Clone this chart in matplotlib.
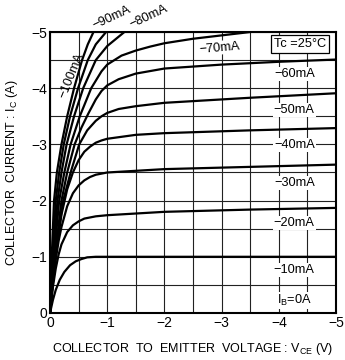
import matplotlib
matplotlib.use("Agg")
import matplotlib.pyplot as plt

plt.rcParams['font.family'] = ['Liberation Sans', 'DejaVu Sans']

# base current curves: (Vce, Ic) points, magnitudes
ib_10_v = [0, 0.05, 0.1, 0.17, 0.25, 0.35, 0.45, 0.55, 0.65, 0.8, 1.5, 3, 5]
ib_10_i = [0, 0.23, 0.41, 0.59, 0.73, 0.85, 0.92, 0.96, 0.99, 1.0, 1.0, 1.0, 1.0]

ib_20_v = [0, 0.05, 0.1, 0.15, 0.2, 0.3, 0.4, 0.5, 0.6, 0.8, 1.0, 2.0, 3.5, 5]
ib_20_i = [0, 0.46, 0.79, 1.04, 1.22, 1.44, 1.56, 1.63, 1.68, 1.72, 1.74, 1.80, 1.84, 1.87]

ib_30_v = [0, 0.05, 0.1, 0.15, 0.2, 0.3, 0.4, 0.5, 0.6, 0.7, 0.8, 1.0, 2.0, 3.5, 5]
ib_30_i = [0, 0.53, 0.95, 1.28, 1.53, 1.9, 2.13, 2.27, 2.36, 2.42, 2.46, 2.50, 2.56, 2.60, 2.64]

ib_40_v = [0, 0.05, 0.1, 0.2, 0.3, 0.4, 0.5, 0.6, 0.7, 0.8, 0.9, 1.0, 1.5, 2.0, 3.5, 5]
ib_40_i = [0, 0.6, 1.05, 1.75, 2.2, 2.5, 2.72, 2.87, 2.96, 3.03, 3.07, 3.10, 3.17, 3.20, 3.25, 3.29]

ib_50_v = [0, 0.05, 0.1, 0.23, 0.36, 0.51, 0.65, 0.8, 0.9, 1.0, 1.2, 1.5, 2.0, 3.5, 5]
ib_50_i = [0, 0.6, 1.1, 2.0, 2.5, 3.0, 3.25, 3.42, 3.5, 3.56, 3.63, 3.68, 3.74, 3.83, 3.91]

ib_60_v = [0, 0.05, 0.085, 0.2, 0.3, 0.43, 0.55, 0.67, 0.8, 0.9, 1.0, 1.2, 1.5, 2.0, 3.0, 4.0, 5]
ib_60_i = [0, 0.6, 1.0, 2.0, 2.5, 3.0, 3.3, 3.55, 3.8, 3.95, 4.05, 4.16, 4.26, 4.35, 4.42, 4.47, 4.51]

ib_70_v = [0, 0.07, 0.16, 0.25, 0.36, 0.52, 0.72, 0.9, 1.0, 1.25, 1.5, 1.75, 2.0, 2.5, 3.0, 3.5, 4.0, 5]
ib_70_i = [0, 1.0, 2.0, 2.5, 3.0, 3.5, 4.0, 4.3, 4.42, 4.58, 4.67, 4.74, 4.80, 4.88, 4.94, 5.0, 5.06, 5.18]

ib_80_v = [0, 0.06, 0.13, 0.2, 0.29, 0.42, 0.58, 0.8, 1.0, 1.3]
ib_80_i = [0, 1.0, 2.0, 2.5, 3.0, 3.5, 4.0, 4.5, 4.75, 5.0]

ib_90_v = [0, 0.045, 0.1, 0.16, 0.24, 0.35, 0.49, 0.66, 0.8, 0.98]
ib_90_i = [0, 1.0, 2.0, 2.5, 3.0, 3.5, 4.0, 4.5, 4.78, 5.0]

ib_100_v = [0, 0.03, 0.07, 0.12, 0.2, 0.3, 0.42, 0.56, 0.66, 0.76]
ib_100_i = [0, 1.0, 2.0, 2.5, 3.0, 3.5, 4.0, 4.5, 4.78, 5.0]

curves = [(ib_10_v, ib_10_i), (ib_20_v, ib_20_i), (ib_30_v, ib_30_i),
          (ib_40_v, ib_40_i), (ib_50_v, ib_50_i), (ib_60_v, ib_60_i),
          (ib_70_v, ib_70_i), (ib_80_v, ib_80_i), (ib_90_v, ib_90_i),
          (ib_100_v, ib_100_i)]

# right-side labels and their heights
right_labels = ['\u221260mA', '\u221250mA', '\u221240mA', '\u221230mA', '\u221220mA', '\u221210mA']
right_label_i = [4.25, 3.61, 2.99, 2.31, 1.60, 0.77]

fig = plt.figure(figsize=(3.45, 3.6), dpi=100)
ax = fig.add_axes([0.145, 0.1306, 0.829, 0.7805])

for v, i in curves:
    ax.plot([-x for x in v], [-y for y in i], color='black', lw=1.6,
            solid_capstyle='butt', zorder=3)

ax.set_xlim(0, -5)
ax.set_ylim(0, -5)
ax.set_xticks([0, -1, -2, -3, -4, -5])
ax.set_yticks([0, -1, -2, -3, -4, -5])
ax.set_xticks([-0.5, -1.5, -2.5, -3.5, -4.5], minor=True)
ax.set_yticks([-0.5, -1.5, -2.5, -3.5, -4.5], minor=True)
ax.set_xticklabels(['0', '\u22121', '\u22122', '\u22123', '\u22124', '\u22125'])
ax.set_yticklabels(['0', '\u22121', '\u22122', '\u22123', '\u22124', '\u22125'])
ax.grid(True, which='both', color='#222222', lw=0.8, zorder=1)
ax.tick_params(which='both', length=0, labelsize=10, pad=2)
for s in ax.spines.values():
    s.set_linewidth(1.5)
    s.set_zorder(5)

ax.set_xlabel('COLLECTOR  TO  EMITTER  VOLTAGE : V$_\\mathregular{CE}$ (V)',
              fontsize=9, labelpad=8)
ax.set_ylabel('COLLECTOR  CURRENT : I$_\\mathregular{C}$ (A)', fontsize=9,
              labelpad=8)

fs = 9.2
box = dict(fc='white', ec='none', pad=0.6)
for lab, y in zip(right_labels, right_label_i):
    ax.text(-4.27, -y, lab, fontsize=fs, ha='center', va='center',
            bbox=box, zorder=4)
ax.text(-4.27, -0.23, 'I$_\\mathregular{B}$=0A', fontsize=fs, ha='center',
        va='center', bbox=box, zorder=4)
ax.text(-2.96, -4.72, '\u221270mA', fontsize=fs, ha='center', va='center',
        rotation=5, bbox=box, zorder=4)
ax.text(-4.37, -4.79, 'Tc =25\u00b0C', fontsize=fs, ha='center', va='center',
        bbox=dict(fc='white', ec='black', lw=0.9, pad=2.2), zorder=6)
ax.text(-0.37, -4.22, '\u2212100mA', fontsize=fs, ha='center', va='center',
        rotation=68, zorder=4)
ax.text(-1.08, -5.25, '\u221290mA', fontsize=fs, ha='center', va='center',
        rotation=25, clip_on=False)
ax.text(-1.73, -5.27, '\u221280mA', fontsize=fs, ha='center', va='center',
        rotation=25, clip_on=False)

fig.savefig('out.png', dpi=100)
